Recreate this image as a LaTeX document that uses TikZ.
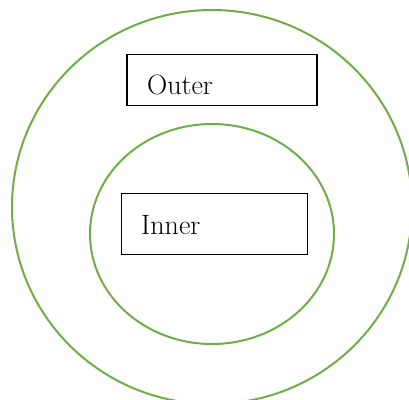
\documentclass[tikz,border=0pt]{standalone}
\usetikzlibrary{positioning,shapes.geometric}
\definecolor{ringgreen}{HTML}{70AD47}
\begin{document}
\begin{tikzpicture}[x=1pt,y=-1pt,
  ring/.style={draw=ringgreen,line width=2pt},
  labelbox/.style={draw=black,line width=1.4pt,rectangle,inner sep=0pt},
  labeltext/.style={inner sep=0pt,font=\fontsize{28}{34}\selectfont}]
\useasboundingbox (0,0) rectangle (409,399);
\clip (0,0) rectangle (409,399);
\node[ring,ellipse,minimum width=400pt,minimum height=394pt,inner sep=0pt] (outerring) at (212,207) {};
\node[ring,ellipse,minimum width=244pt,minimum height=220pt,inner sep=0pt] (innerring) at (212,234) {};
\node[labelbox,minimum width=190pt,minimum height=51pt] (outerbox) at (222,80) {};
\node[labelbox,minimum width=186pt,minimum height=61pt] (innerbox) at (214.5,224) {};
\node[labeltext,anchor=base west] (outertext) at (147,94) {Outer};
\node[labeltext,anchor=base west] (innertext) at (141,234) {Inner};
\end{tikzpicture}
\end{document}
